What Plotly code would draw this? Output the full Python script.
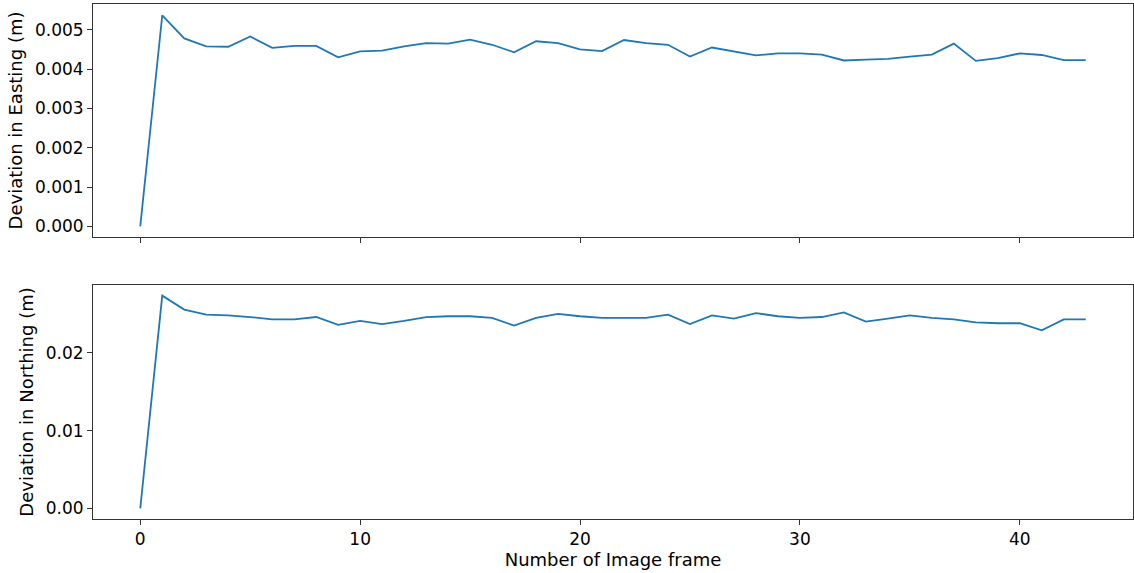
import plotly.graph_objects as go
from plotly.subplots import make_subplots

frames = list(range(44))
easting = [0.0, 0.00537, 0.00478, 0.00458, 0.00457, 0.00483, 0.00454, 0.00459, 0.00459, 0.00430,
           0.00445, 0.00447, 0.00458, 0.00466, 0.00465, 0.00475, 0.00462, 0.00443, 0.00471, 0.00466,
           0.00450, 0.00446, 0.00474, 0.00466, 0.00462, 0.00432, 0.00455, 0.00445, 0.00435, 0.00440,
           0.00440, 0.00437, 0.00422, 0.00424, 0.00426, 0.00432, 0.00437, 0.00465, 0.00421, 0.00428,
           0.00440, 0.00436, 0.00423, 0.00423]
northing = [0.0, 0.02735, 0.02555, 0.0249, 0.0248, 0.0246, 0.0243, 0.0243, 0.0246, 0.0236,
            0.0241, 0.0237, 0.0241, 0.0246, 0.0247, 0.0247, 0.0245, 0.0235, 0.0245, 0.0250,
            0.0247, 0.0245, 0.0245, 0.0245, 0.0249, 0.0237, 0.0248, 0.0244, 0.0251, 0.0247,
            0.0245, 0.0246, 0.0252, 0.0240, 0.0244, 0.0248, 0.0245, 0.0243, 0.0239, 0.0238,
            0.0238, 0.0229, 0.0243, 0.0243]
x_ticks = [0, 10, 20, 30, 40]
east_ticks = [0.0, 0.001, 0.002, 0.003, 0.004, 0.005]
north_ticks = [0.0, 0.01, 0.02]

fig = make_subplots(rows=2, cols=1, shared_xaxes=False)
line = dict(color="#1f77b4", width=1.8)
fig.add_trace(go.Scatter(x=frames, y=easting, mode="lines", line=line, showlegend=False), row=1, col=1)
fig.add_trace(go.Scatter(x=frames, y=northing, mode="lines", line=line, showlegend=False), row=2, col=1)

tickfont = dict(family="DejaVu Sans", size=17, color="black")
labfont = dict(family="DejaVu Sans", size=18, color="black")
axis_common = dict(showline=True, linecolor="#333333", linewidth=1, mirror=True, ticks="outside",
                   ticklen=5, tickcolor="#333333", showgrid=False, zeroline=False, tickfont=tickfont,
                   automargin=False)

xr = [-2.15, 45.15]
fig.update_layout(
    width=1134, height=573,
    margin=dict(l=93, r=1, t=4, b=54),
    paper_bgcolor="white", plot_bgcolor="white",
    font=tickfont,
    xaxis=dict(domain=[0, 1], range=xr, tickvals=x_ticks, showticklabels=False, anchor="y", **axis_common),
    yaxis=dict(domain=[0.5476, 1], range=[-0.00027, 0.005657], tickvals=east_ticks, tickformat=".3f",
               title=dict(text="Deviation in Easting (m)", font=labfont, standoff=7), anchor="x", **axis_common),
    xaxis2=dict(domain=[0, 1], range=xr, tickvals=x_ticks, anchor="y2",
                title=dict(text="Number of Image frame", font=labfont, standoff=4), **axis_common),
    yaxis2=dict(domain=[0, 0.4544], range=[-0.00137, 0.02872], tickvals=north_ticks, tickformat=".2f",
                title=dict(text="Deviation in Northing (m)", font=labfont, standoff=7), anchor="x2", **axis_common),
)
fig.write_html("out.html", config={"displayModeBar": False},
               post_script="document.body.style.margin='0';document.body.style.overflow='hidden';")
